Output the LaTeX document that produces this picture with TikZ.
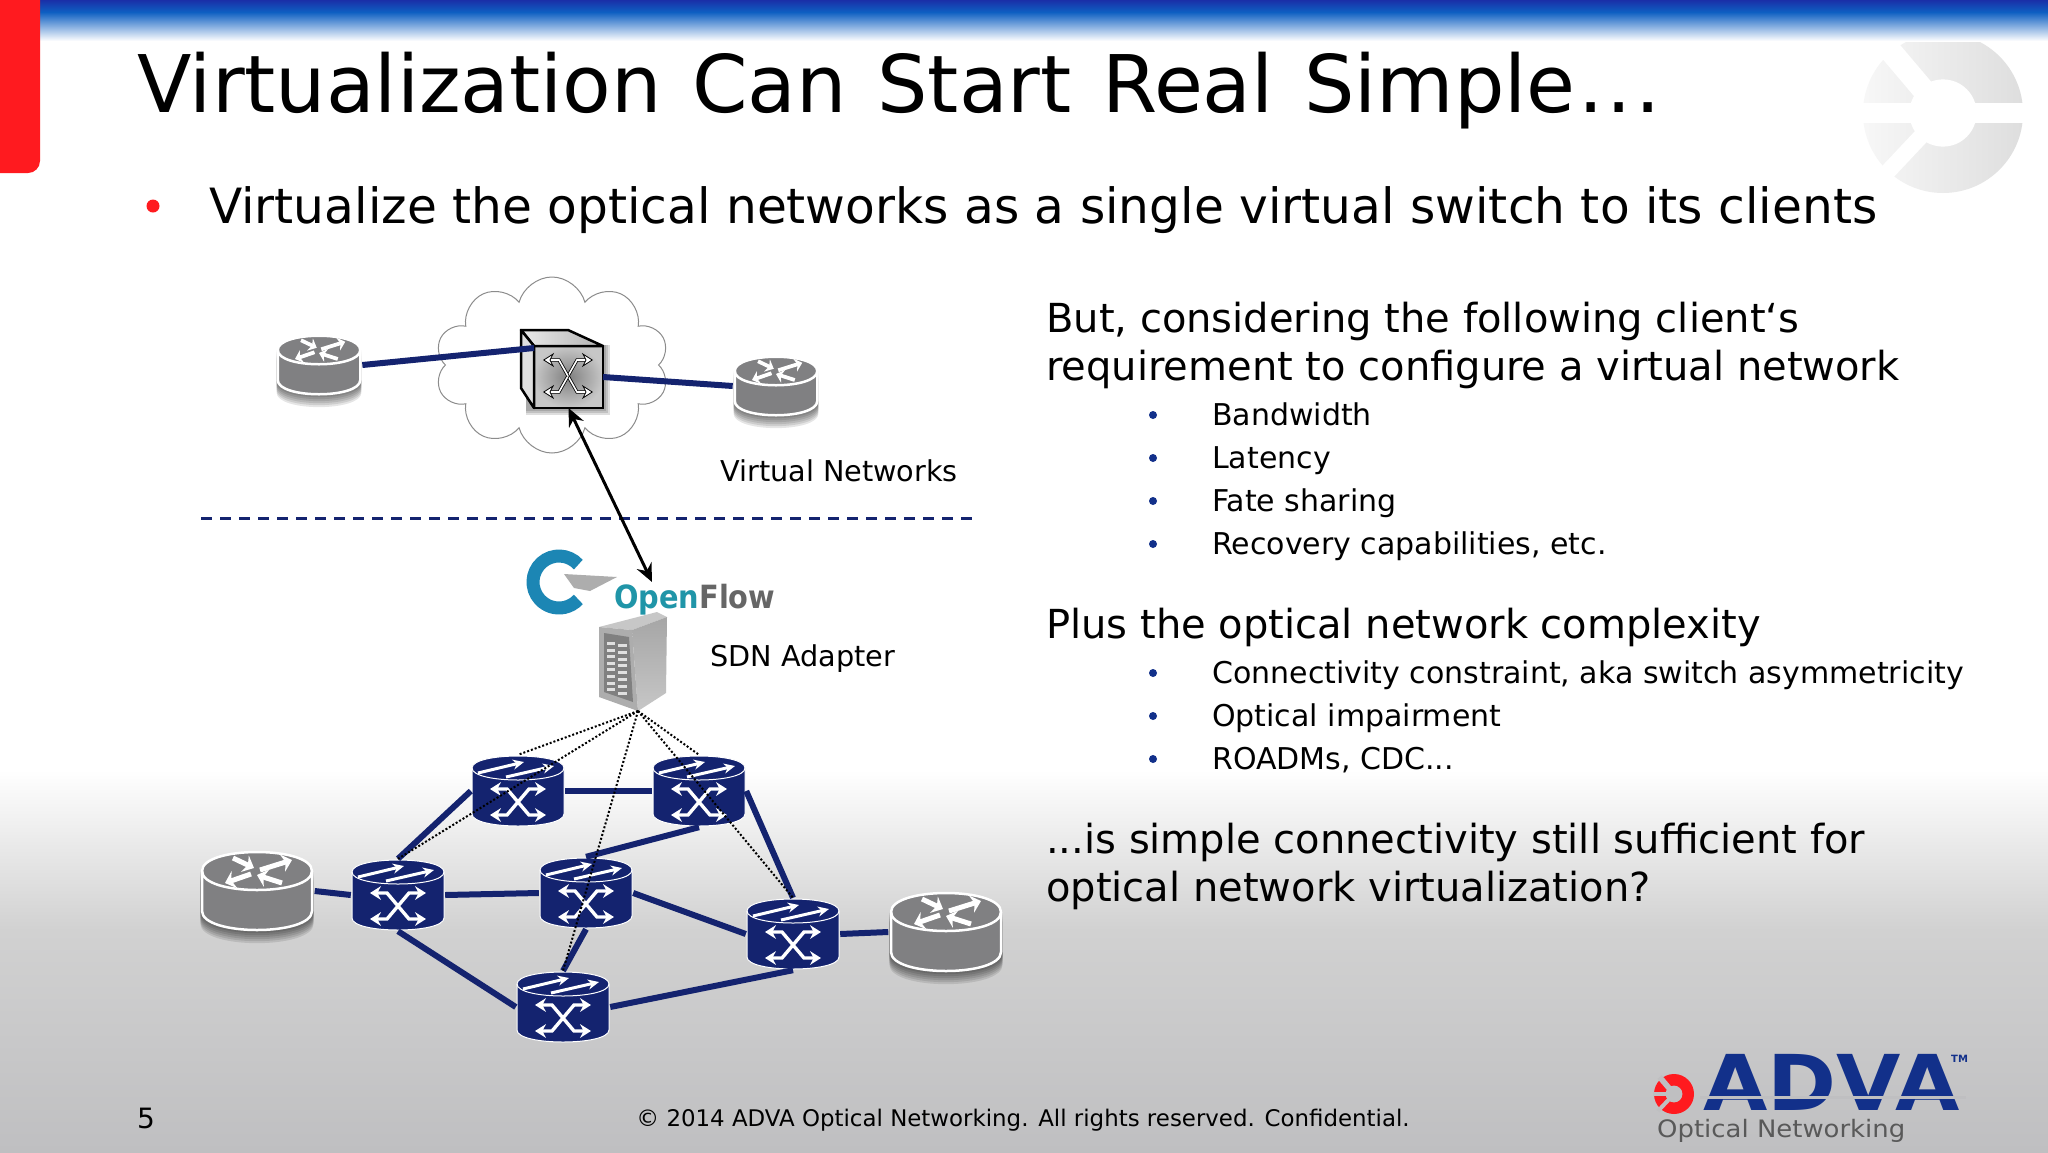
\documentclass[tikz,border=0pt]{standalone}
\usepackage{fontspec}
\setmainfont{DejaVu Sans}
\usepackage{graphicx}
\usetikzlibrary{shapes.symbols,arrows.meta}
\definecolor{advanavy}{HTML}{14236F}
\definecolor{advablue}{HTML}{12308A}
\definecolor{advared}{HTML}{FF1A1F}
\definecolor{routergray}{HTML}{808082}
\definecolor{logogray}{HTML}{BFBFC1}
\definecolor{barblue}{HTML}{1A2FA8}
\definecolor{barmid}{HTML}{0E5FC2}
\definecolor{ofring}{HTML}{1C86B4}
\definecolor{ofopen}{HTML}{2095A8}
\newcommand{\fsize}[1]{\fontsize{#1}{#1}\selectfont}
\newcommand{\cylbody}[3]{(-#1,{-#2+#3}) -- (-#1,{#2-#3}) .. controls (-#1,{#2+#3/3}) and (#1,{#2+#3/3}) .. (#1,{#2-#3}) -- (#1,{-#2+#3}) .. controls (#1,{-#2-#3/3}) and (-#1,{-#2-#3/3}) .. cycle}
\newcommand{\cylrim}[3]{(-#1,{-#2+#3}) .. controls (-#1,{-#2+7*#3/3}) and (#1,{-#2+7*#3/3}) .. (#1,{-#2+#3})}
\newcommand{\advamark}[6]{% x, y, radius, fill, cut colour, right end of the band
\begin{scope}[shift={(#1,#2)},x=#3pt,y=-#3pt]
\path[#4] (0,0) circle (1);
\fill[#5] (0,0) circle (.42);
\fill[#5] (-1.05,-.12) rectangle (#6,.12);
\draw[#5,line width=.2*#3pt] (0,0) -- (-.8,.85);
\draw[#5,line width=.28*#3pt] (0,0) -- (-.72,.85*-1);
\end{scope}}
\tikzset{
sidetext/.style={anchor=base west,inner sep=0pt,font=\fsize{40}},
subtext/.style={anchor=base west,inner sep=0pt,font=\fsize{30}},
labeltext/.style={anchor=base west,inner sep=0pt,font=\fsize{28.7}},
subdot/.style={circle,fill=advablue,minimum size=8pt,inner sep=0pt},
link/.style={draw=advanavy,line width=6pt},
ctrl/.style={draw=black,line width=2pt,dash pattern=on 2pt off 2pt},
crossicon/.style={line width=#1,{Stealth[length=3.2*#1,width=4*#1]}-{Stealth[length=3.2*#1,width=4*#1]}},
topicon/.style={line width=3pt,-{Stealth[length=11pt,width=10pt]}},
routericon/.style={line width=#1,-{Stealth[length=2*#1,width=3.6*#1]}},
switchbody/.style={minimum width=94pt,minimum height=72pt,inner sep=0pt,
 path picture={\begin{scope}[shift={(path picture bounding box.center)}]
 \fill[advanavy] \cylbody{46}{35}{12};
 \draw[white,line width=1pt] \cylbody{46}{35}{12};
 \draw[white,line width=1pt] \cylrim{46}{35}{12};
 \draw[white,crossicon=3.4pt] (-28,-2) -- (-11,-2) -- (11,24) -- (28,24);
 \draw[white,crossicon=3.4pt] (28,-2) -- (11,-2) -- (-11,24) -- (-28,24);
 \draw[white,topicon] (-40,-18) -- (6,-29);
 \draw[white,topicon] (-12,-14) -- (36,-25);
 \end{scope}}},
routerbody/.style={minimum width=#1*115pt,minimum height=#1*83pt,inner sep=0pt,
 path picture={\begin{scope}[shift={(path picture bounding box.center)},x=#1*1pt,y=#1*-1pt]
 \fill[routergray] \cylbody{55}{39}{19};
 \draw[white,line width=2.5pt] \cylbody{55}{39}{19};
 \draw[white,line width=2.5pt] \cylrim{55}{39}{19};
 \draw[white,routericon=#1*5pt] (3,-21) -- (35,-31);
 \draw[white,routericon=#1*5pt] (-6,-17) -- (-32,-8);
 \draw[white,routericon=#1*5pt] (-24,-33) -- (-3,-23);
 \draw[white,routericon=#1*5pt] (25,-8) -- (0,-16);
 \end{scope}}},
}
\begin{document}
\begin{tikzpicture}[x=1pt,y=-1pt]
\useasboundingbox (0,0) rectangle (2048,1152);
% page
\fill[white] (0,0) rectangle (2048,1152);
\shade[top color=white,bottom color=black!18] (0,770) rectangle (2048,930);
\shade[top color=black!18,bottom color=logogray] (0,930) rectangle (2048,1152);
\advamark{1943}{113}{80}{shade,left color=black!3,right color=black!13}{white}{1.05}
\shade[top color=barblue,bottom color=barmid] (0,0) rectangle (2048,12);
\shade[top color=barmid,bottom color=white] (0,12) rectangle (2048,41);
\fill[advared] (0,0) -- (40,0) [rounded corners=12pt] -- (40,173) [sharp corners] -- (0,173) -- cycle;
\draw (137,112) node[anchor=base west,inner sep=0pt,font=\fsize{79.5}] (title) {\spaceskip 30.5pt\relax Virtualization Can Start Real Simple\kern3pt.\kern3pt.\kern3pt.};
\draw (153,206) node[circle,fill=advared,minimum size=13pt,inner sep=0pt] (dot) {};
\draw (209,223) node[anchor=base west,inner sep=0pt,font=\fsize{48.6}] (lead) {Virtualize the optical networks as a single virtual switch to its clients};
% right column
\draw (1046,332) node[sidetext] (but) {But, considering the following client‘s};
\draw (1046,380) node[sidetext] (req) {requirement to configure a virtual network};
\foreach \ypos/\txt in {425/Bandwidth,468/Latency,511/Fate sharing,554/{Recovery capabilities, etc.},683/{Connectivity constraint, aka switch asymmetricity},726/Optical impairment,769/{ROADMs, CDC...}}{
\draw (1153,\ypos-10) node[subdot] {};
\draw (1212,\ypos) node[subtext] {\txt};
}
\draw (1046,638) node[sidetext] (plus) {Plus the optical network complexity};
\draw (1046,853) node[sidetext] (simple) {...is simple connectivity still sufficient for};
\draw (1046,901) node[sidetext] (virt) {optical network virtualization?};
% footer
\draw (137,1128) node[anchor=base west,inner sep=0pt,font=\fsize{28}] (page) {5};
\draw (1023,1126) node[anchor=base,inner sep=0pt,font=\fsize{22.9}] (copy) {© 2014 ADVA Optical Networking. All rights reserved. Confidential.};
\advamark{1674}{1094}{20}{fill=advared}{logogray}{0}
\draw (1703,1110) node[anchor=base west,inner sep=0pt,text=advablue,font=\fsize{77}\bfseries] (adva) {\scalebox{1.08}[1]{ADVA}};
\fill[logogray] (1700,1096) rectangle (1966,1099);
\draw (1951,1062) node[anchor=base west,inner sep=0pt,text=advablue,font=\fsize{10}\bfseries] (tm) {TM};
\draw (1657,1137) node[anchor=base west,inner sep=0pt,text=black!65,font=\fsize{24}] (optnet) {\scalebox{1.08}[1]{Optical Networking}};
% soft shadows under the routers
\foreach \xpos/\ypos/\rsize in {319/365/.75,776/386/.75,257/891/1,946/932/1}{
\foreach \drop in {2,4,6,8,10,12}{
\fill[black,opacity=.1,shift={(\xpos,\ypos+\drop)},scale=\rsize*1.03] \cylbody{55}{39}{19};
}}
% virtual network
\draw (552,365) node[cloud,draw=black!45,line width=1pt,cloud puffs=10,aspect=1.3,minimum width=234pt,minimum height=176pt,inner sep=0pt] (cloud) {};
\draw (319,365) node[routerbody=.75] (r1) {};
\draw (776,386) node[routerbody=.75] (r2) {};
\foreach \drop in {2,4,6}{
\fill[black,opacity=.13] (526,345) rectangle (604+\drop,409+\drop);
}
\draw (568.5,377) node[draw=black,line width=2.5pt,outer sep=0pt,minimum width=69pt,minimum height=62pt,inner sep=0pt,inner color=black!50,outer color=black!22] (vsw) {};
\draw[line width=2.5pt,left color=black!8,right color=black!30,line join=round] (vsw.north west) -- (521,330) -- (568,330) -- (vsw.north east) -- cycle;
\draw[line width=2.5pt,fill=black!12,line join=round] (vsw.north west) -- (521,330) -- (521,388) -- (vsw.south west) -- cycle;
\foreach \sa/\sb in {1/1,-1/1,1/-1,-1/-1}{
\draw[black,line width=.8pt,double=white,double distance=1.6pt,-{Stealth[length=11pt,width=14pt,fill=white,line width=.8pt]}] (568,376) -- +(\sa*9,\sb*16) -- +(\sa*25,\sb*16);
}
\draw[link] (r1.east) -- (vsw.north west |- 0,348);
\draw[link] (vsw.east |- 0,377) -- (r2.west);
% control plane
\draw[line width=3pt,draw=advanavy,dash pattern=on 11pt off 8pt] (201,518) -- (977,518);
\draw (720,481) node[labeltext] (vnet) {Virtual Networks};
\draw (710,666) node[labeltext] (sdn) {SDN Adapter};
\coordinate (ofbox) at (652,582);
\coordinate (adapter) at (638,711);
\draw[black,line width=3pt,{Stealth[length=18pt,width=16pt]}-{Stealth[length=18pt,width=16pt]}] (vsw.south) -- (ofbox);
% openflow badge
\draw[line width=13pt,draw=ofring] (559,582) ++(-42:26) arc (-42:-318:26);
\fill[black!32] (564,574) -- (617,577) -- (590,591) -- (574,588) -- cycle;
\draw (614,608) node[anchor=base west,inner sep=0pt,font=\fsize{32}\bfseries] (of) {\scalebox{.9}[1]{\textcolor{ofopen}{Open}\textcolor{black!60}{Flow}}};
% adapter box
\fill[black!22] (599,627) -- (657,612) -- (667,617) -- (632,630) -- cycle;
\shade[top color=black!35,bottom color=black!22] (632,630) -- (667,617) -- (666,693) -- (638,711) -- cycle;
\fill[black!32] (599,627) -- (632,630) -- (638,711) -- (599,697) -- cycle;
\fill[black!50] (604,633) -- (629,637) -- (633,702) -- (604,692) -- cycle;
\foreach \row in {0,...,7}{
\fill[black!12] (607,642+\row*6.6) rectangle +(8,3);
\fill[black!12] (618,644+\row*6.8) rectangle +(9,3);
}
% optical network
\foreach \swname/\xpos/\ypos in {swa/518/791,swb/699/791,swc/398/895,swd/586/893,swe/793/934,swf/563/1007}{
\draw (\xpos,\ypos) node[switchbody] (\swname) {};
}
\draw (257,891) node[routerbody=1] (r3) {};
\draw (946,932) node[routerbody=1] (r4) {};
\draw[link] (r3.east) -- (swc.west);
\draw[link] (swc.east) -- (swd.west);
\draw[link] (swc.north) -- (swa.west);
\draw[link] (swa.east) -- (swb.west);
\draw[link] (swb.east) -- (swe.north);
\draw[link] (swb.south) -- (swd.north);
\draw[link] (swd.east) -- (swe.west);
\draw[link] (swd.south) -- (swf.north);
\draw[link] (swc.south) -- (swf.west);
\draw[link] (swf.east) -- (swe.south);
\draw[link] (swe.east) -- (r4.west);
\foreach \swname in {swa,swb,swc,swe,swf}{
\draw[ctrl] (adapter) -- (\swname.north);
}
\end{tikzpicture}
\end{document}
